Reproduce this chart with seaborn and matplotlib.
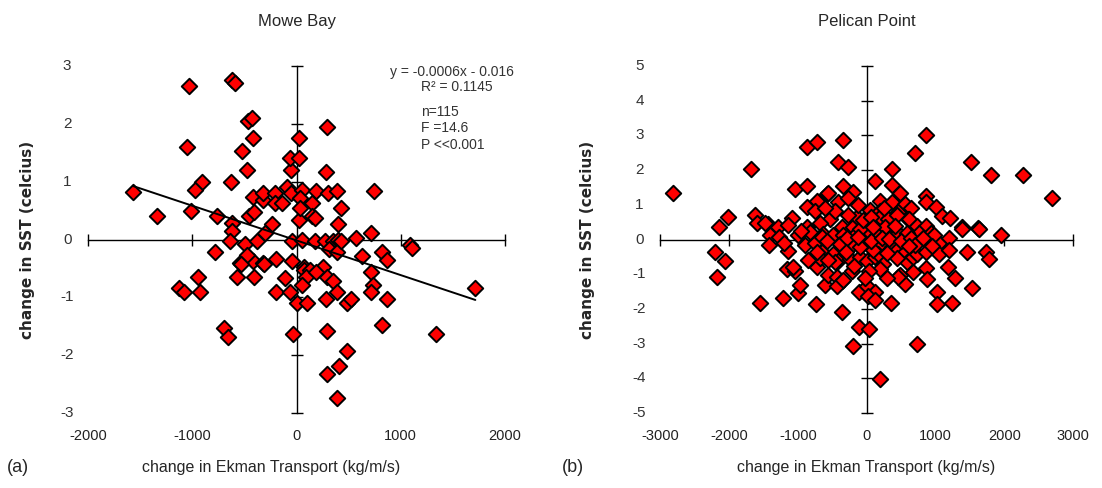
import numpy as np
import seaborn as sns
import matplotlib.pyplot as plt

# (a) Mowe Bay: change in Ekman transport vs change in SST
mowe_x = [-1570, -1340, -1035, -1055, -910, -970, -1015, -785, -765, -615,
          -595, -470, -430, -420, -525, -480, -625, -615, -615, -635,
          -490, -375, -460, -405, -240, -305, -420, -325, -325, -210,
          -210, -135, -95, -50, -50, -65, 20, 20, -40, -200,
          -40, -545, -420, -325, -480, -1130, -1075, -930, -950, -575,
          -410, -535, -115, -200, -60, 0, -700, -660, -30, 295,
          280, 740, 50, 190, 305, 385, 30, 145, 430, 20,
          145, 175, 395, 575, 710, 50, 175, 270, 345, 395,
          1090, 1105, 315, 385, 625, 815, 865, 75, 250, 75,
          125, 95, 290, 345, 385, 50, 105, 280, 480, 520,
          710, 730, 710, 865, 815, 1335, 1715, 290, 480, 410,
          290, 385, 30, 430, -315, 190]
mowe_y = [0.82, 0.40, 2.66, 1.60, 1.00, 0.85, 0.50, -0.22, 0.40, 2.76,
          2.71, 2.05, 2.10, 1.76, 1.53, 1.21, 1.00, 0.29, 0.14, -0.02,
          -0.07, -0.03, 0.40, 0.48, 0.26, 0.12, 0.74, 0.69, 0.81, 0.81,
          0.64, 0.64, 0.91, 0.81, 1.21, 1.41, 1.76, 1.41, -0.03, -0.33,
          -0.38, -0.40, -0.38, -0.40, -0.26, -0.83, -0.90, -0.91, -0.64, -0.64,
          -0.64, -0.43, -0.67, -0.91, -0.91, -1.09, -1.53, -1.69, -1.64, 1.95,
          1.16, 0.84, 0.86, 0.84, 0.81, 0.84, 0.72, 0.64, 0.55, 0.34,
          0.40, 0.38, 0.26, 0.03, 0.12, 0.00, -0.03, -0.02, -0.03, 0.00,
          -0.09, -0.14, -0.17, -0.22, -0.28, -0.22, -0.36, -0.48, -0.47, -0.52,
          -0.52, -0.64, -0.64, -0.72, -0.90, -0.78, -1.09, -1.03, -1.09, -1.03,
          -0.57, -0.78, -0.90, -1.03, -1.48, -1.64, -0.83, -1.59, -1.93, -2.19,
          -2.33, -2.74, 0.55, -0.03, -0.43, -0.57]

# regression shown on the chart
slope, intercept = -0.0006, -0.016

# (b) Pelican Point
pelican_x = [-2811, -1681, -2014, -2145, -869, -725, -1043, -869, -725, -869,
             -753, -1623, -1594, -1435, -1290, -1087, -1145, -1406, -1275, -869,
             -580, -2203, -2058, -2174, -1420, -1145, -1550, -1217, -1000, -971,
             -1159, -1043, -1072, -725, -739, -609, -898, -753, -652, -681,
             -348, 869, 710, 1521, 1811, 2275, 2695, -420, -275, 116,
             362, 362, 478, 869, 869, 1014, 1101, 1217, 1391, 1623,
             1956, -348, -565, -203, -420, -275, 188, 362, 43, 188,
             551, 652, 449, 594, -536, -362, -203, -1478, -681, -145,
             -29, 116, 188, 304, 435, 623, 725, 869, -638, -493,
             -348, -174, 0, 145, 290, 449, 580, 768, 942, -652,
             -391, -203, -72, 188, 362, 435, 522, 580, 667, 739,
             869, 1058, 1058, -725, -493, -420, -246, -101, 0, 116,
             232, -217, 478, 667, 869, 1188, 1290, -565, -435, -362,
             -435, -116, 0, 116, 14, 116, 348, 551, 884, 1029,
             1029, 1246, 1536, 1463, 1739, 1782, -362, -116, 29, -203,
             739, 188, -464, 188, 159, 87, -101, 435, 580, 985,
             1391, 1637, 449, -348, 261, 406, -101, -275, -464, -1000,
             -826, -580, -290, -130, 60, 230, 330, 500, 650, 700,
             820, -50, 60, 250, -120, -600, 300, -300, -560, 30,
             -20, 300, 620, 950, -850, -950, -1200, 1200, 1200, 100,
             -180]
pelican_y = [1.33, 2.02, 0.66, 0.35, 2.68, 2.80, 1.47, 1.53, 1.12, 0.95,
             0.81, 0.72, 0.49, 0.46, 0.37, 0.63, 0.43, 0.12, 0.06, 0.37,
             1.30, -0.35, -0.63, -1.07, -0.17, -0.32, -1.82, -1.70, -1.53, -1.30,
             -0.84, -0.92, -0.78, -0.78, -1.87, -1.30, -0.17, -0.09, -0.37, -0.52,
             2.88, 3.00, 2.48, 2.22, 1.87, 1.87, 1.21, 2.22, 2.10, 1.70,
             2.02, 1.58, 1.33, 1.24, 1.07, 0.95, 0.69, 0.63, 0.37, 0.32,
             0.14, 1.53, 1.35, 1.38, 1.07, 1.21, 1.10, 1.07, 0.86, 0.81,
             1.01, 0.92, 0.78, 0.58, 0.58, 0.37, 0.37, 0.49, 0.49, 0.66,
             0.40, 0.52, 0.66, 0.58, 0.72, 0.58, 0.40, 0.40, 0.17, 0.14,
             0.14, 0.14, 0.20, 0.14, 0.14, 0.20, 0.14, 0.20, 0.20, 0.06,
             -0.14, -0.14, 0.00, -0.14, -0.23, -0.29, -0.43, -0.66, -0.49, -0.43,
             -0.35, -0.09, -0.43, -0.37, -0.43, -0.63, -0.55, -0.49, -0.63, -0.49,
             -0.72, -0.92, -1.01, -0.95, -0.81, -0.78, -1.10, -1.01, -1.07, -1.21,
             -1.33, -1.50, -1.35, -1.50, -1.64, -1.73, -1.82, -1.27, -1.15, -1.50,
             -1.87, -1.82, -1.41, -0.37, -0.35, -0.55, -2.10, -2.51, -2.59, -3.08,
             -3.00, -4.03, -0.66, -0.86, -0.43, -0.29, -0.23, -0.52, 0.20, 0.14,
             0.29, 0.29, -1.07, -1.18, 0.35, 0.40, 0.29, 0.72, 0.81, 0.12,
             0.23, -0.05, 0.05, 0.08, -0.05, 0.05, 0.02, -0.05, 0.05, -0.15,
             0.05, 0.55, 0.65, 0.90, 1.00, 0.90, -0.40, -0.35, -0.60, -0.90,
             -1.10, -1.10, -0.20, -0.20, -0.60, 0.25, -0.10, 0.05, -0.30, 0.35,
             -0.75]

mowe_xticks = [-2000, -1000, 0, 1000, 2000]
mowe_yticks = [-3, -2, -1, 0, 1, 2, 3]
pelican_xticks = [-3000, -2000, -1000, 0, 1000, 2000, 3000]
pelican_yticks = [-5, -4, -3, -2, -1, 0, 1, 2, 3, 4, 5]

sns.set_style("white")
plt.rcParams["font.family"] = ["Liberation Sans", "DejaVu Sans"]

fig = plt.figure(figsize=(11.02, 4.88), dpi=100)
ax1 = fig.add_axes([0.0799, 0.1537, 0.3784, 0.711])
ax2 = fig.add_axes([0.599, 0.1537, 0.3748, 0.711])


def excel_axes(ax, xticks, yticks):
    ax.set_xlim(xticks[0], xticks[-1])
    ax.set_ylim(yticks[0], yticks[-1])
    for side in ["top", "right"]:
        ax.spines[side].set_visible(False)
    ax.spines["left"].set_position("zero")
    ax.spines["bottom"].set_position("zero")
    for side in ["left", "bottom"]:
        ax.spines[side].set_color("black")
        ax.spines[side].set_linewidth(1.0)
    ax.set_xticks(xticks)
    ax.set_yticks(yticks)
    ax.tick_params(direction="inout", length=9, width=1.0, color="black",
                   bottom=True, left=True, top=False, right=False,
                   labelbottom=False, labelleft=False)
    ax.set_xlabel("")
    ax.set_ylabel("")
    # tick labels sit on the low edges of the plot, like Excel
    for v in xticks:
        ax.text(v, -0.065, str(v), transform=ax.get_xaxis_transform(),
                ha="center", va="center", fontsize=10.5, color="#222222")
    for v in yticks:
        ax.text(-0.05, v, str(v), transform=ax.get_yaxis_transform(),
                ha="center", va="center", fontsize=11, color="#333333")
    ax.grid(False)
    ax.set_facecolor("white")


marker_kw = dict(marker="D", color="#ff0000", edgecolor="black",
                 linewidth=1.4, s=62, zorder=3, legend=False)

sns.scatterplot(x=mowe_x, y=mowe_y, ax=ax1, **marker_kw)
line_x = np.array([min(mowe_x), max(mowe_x)])
ax1.plot(line_x, slope * line_x + intercept, color="black", lw=1.4, zorder=4)
excel_axes(ax1, mowe_xticks, mowe_yticks)

sns.scatterplot(x=pelican_x, y=pelican_y, ax=ax2, **marker_kw)
excel_axes(ax2, pelican_xticks, pelican_yticks)

# regression annotation
ann = dict(transform=ax1.transAxes, fontsize=10, color="#333333",
           ha="left", va="center")
ax1.text(0.724, 0.983, "y = -0.0006x - 0.016", **ann)
ax1.text(0.799, 0.939, "R² = 0.1145", **ann)
ax1.text(0.799, 0.867, "n=115", **ann)
ax1.text(0.799, 0.821, "F =14.6", **ann)
ax1.text(0.799, 0.772, "P <<0.001", **ann)

# titles, axis labels and panel letters
fig.text(0.2695, 0.955, "Mowe Bay", ha="center", va="center", fontsize=12)
fig.text(0.787, 0.955, "Pelican Point", ha="center", va="center", fontsize=12)
ylab = dict(rotation=90, ha="center", va="center", fontsize=11,
            fontweight="bold", family=["Liberation Sans Narrow", "DejaVu Sans"])
fig.text(0.025, 0.508, "change in SST (celcius)", **ylab)
fig.text(0.533, 0.508, "change in SST (celcius)", **ylab)
fig.text(0.246, 0.041, "change in Ekman Transport (kg/m/s)",
         ha="center", va="center", fontsize=11.5)
fig.text(0.786, 0.041, "change in Ekman Transport (kg/m/s)",
         ha="center", va="center", fontsize=11.5)
fig.text(0.016, 0.041, "(a)", ha="center", va="center", fontsize=13)
fig.text(0.520, 0.041, "(b)", ha="center", va="center", fontsize=13)

fig.savefig("out.png", dpi=100)
